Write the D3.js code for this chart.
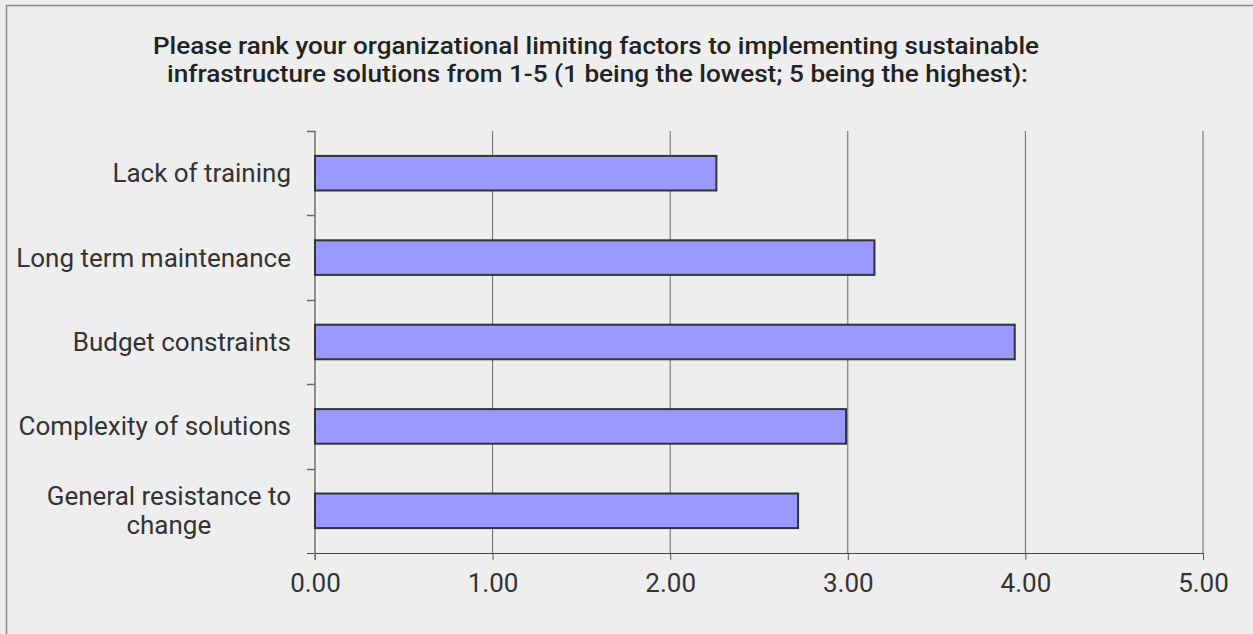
<!DOCTYPE html>
<html>
<head>
<meta charset="utf-8">
<script src="https://cdn.jsdelivr.net/npm/d3@7"></script>
<style>
  html, body { margin: 0; padding: 0; background: #eeeeee; }
  svg { display: block; }
  text { font-family: Roboto, "Liberation Sans", Arial, sans-serif; }
</style>
</head>
<body>
<svg id="chart" width="1253" height="634"></svg>
<script>
// Survey results: average rank (1-5) of each limiting factor
const categories = [
  "Lack of training",
  "Long term maintenance",
  "Budget constraints",
  "Complexity of solutions",
  "General resistance to change"
];
const categoryLines = [
  ["Lack of training"],
  ["Long term maintenance"],
  ["Budget constraints"],
  ["Complexity of solutions"],
  ["General resistance to", "change"]
];
const values = [2.26, 3.15, 3.94, 2.99, 2.72];
const xTicks = [0, 1, 2, 3, 4, 5];
const titleLines = [
  "Please rank your organizational limiting factors to implementing sustainable",
  "infrastructure solutions from 1-5 (1 being the lowest; 5 being the highest):"
];

const svg = d3.select("#chart");
const W = 1253, H = 634;
const plot = { left: 315, right: 1203, top: 131, bottom: 553 };

// background and frame
svg.append("rect").attr("x", 0).attr("y", 0).attr("width", W).attr("height", H).attr("fill", "#eeeeee");
svg.append("rect").attr("x", 6.5).attr("y", 5.5).attr("width", W + 20).attr("height", H + 20)
  .attr("fill", "none").attr("stroke", "#8a8a8a").attr("stroke-width", 1.5);

// title
const titleX = [596, 597.5], titleY = [54, 82], titleW = [886, 861];
svg.selectAll("text.title").data(titleLines).join("text")
  .attr("class", "title")
  .attr("x", (d, i) => titleX[i])
  .attr("y", (d, i) => titleY[i])
  .attr("text-anchor", "middle")
  .attr("font-size", 24)
  .attr("font-weight", 500)
  .attr("fill", "#222")
  .attr("textLength", (d, i) => titleW[i])
  .attr("lengthAdjust", "spacingAndGlyphs")
  .text(d => d);

const x = d3.scaleLinear().domain([0, 5]).range([plot.left, plot.right]);
const slot = d3.scaleBand().domain(categories).range([plot.top, plot.bottom]).padding(0);
const y = d3.scaleBand().domain(categories).range([plot.top, plot.bottom])
  .paddingInner(0.59).paddingOuter(0.295);

// vertical gridlines
svg.append("g").selectAll("line").data(xTicks.slice(1)).join("line")
  .attr("x1", d => x(d)).attr("x2", d => x(d))
  .attr("y1", plot.top).attr("y2", plot.bottom)
  .attr("stroke", "#666").attr("stroke-width", 1);

// x axis
const xAxis = d3.axisBottom(x).tickValues(xTicks).tickFormat(d3.format(".2f"))
  .tickSizeInner(7).tickSizeOuter(0).tickPadding(14);
const gx = svg.append("g").attr("transform", `translate(0,${plot.bottom})`).call(xAxis);
gx.select(".domain").remove();
gx.selectAll(".tick line").attr("stroke", "#555");
gx.selectAll(".tick text").attr("font-size", 26).attr("fill", "#333")
  .style("font-family", "Roboto, sans-serif");
svg.append("line").attr("x1", plot.left - 8).attr("x2", plot.right)
  .attr("y1", plot.bottom + 0.5).attr("y2", plot.bottom + 0.5)
  .attr("stroke", "#444").attr("stroke-width", 1.2);

// y axis line and category boundary ticks
svg.append("line").attr("x1", plot.left).attr("x2", plot.left)
  .attr("y1", plot.top).attr("y2", plot.bottom + 7)
  .attr("stroke", "#777").attr("stroke-width", 1.6);
const bounds = categories.map(c => slot(c));
svg.append("g").selectAll("line").data(bounds).join("line")
  .attr("x1", plot.left - 8).attr("x2", plot.left)
  .attr("y1", d => Math.round(d) + 0.5).attr("y2", d => Math.round(d) + 0.5)
  .attr("stroke", "#666").attr("stroke-width", 1.5);

// bars
svg.append("g").selectAll("rect").data(categories).join("rect")
  .attr("x", x(0))
  .attr("y", d => y(d))
  .attr("width", (d, i) => x(values[i]) - x(0))
  .attr("height", y.bandwidth())
  .attr("fill", "#9999ff")
  .attr("stroke", "#333")
  .attr("stroke-width", 2);

// category labels (multi-line labels centred on one another, right-aligned as a block)
const labelRight = 291, lineH = 29;
categories.forEach((c, i) => {
  const lines = categoryLines[i];
  const cy = slot(c) + slot.bandwidth() / 2;
  const t = svg.append("text")
    .attr("font-size", 26).attr("fill", "#333");
  lines.forEach((ln, j) => {
    t.append("tspan").attr("y", cy + 9 + (j - (lines.length - 1) / 2) * lineH).text(ln);
  });
  // measure widths to centre lines within the right-aligned block
  const widths = [];
  t.selectAll("tspan").each(function () { widths.push(this.getComputedTextLength()); });
  const maxW = d3.max(widths);
  t.selectAll("tspan").attr("x", labelRight - maxW / 2).attr("text-anchor", "middle");
});
</script>
</body>
</html>
